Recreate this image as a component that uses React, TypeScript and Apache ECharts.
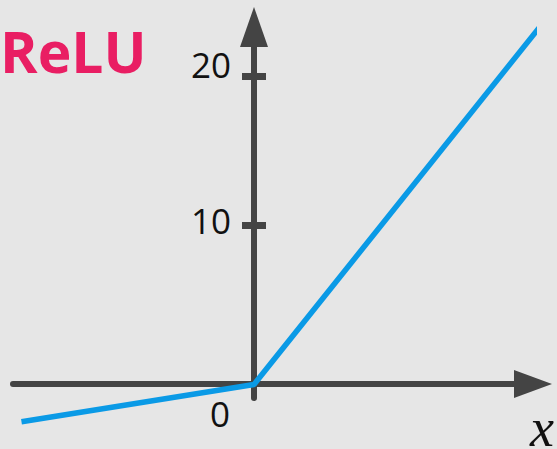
import React, { useEffect, useRef } from "react";
import * as echarts from "echarts";

// Data
const xValues = [-20, 0, 25];
const yValues = [-3.2, -0.7, 23.7];
const yTickValues = [10, 20];
const yUpperLabel = [20];
const yLowerLabel = [10];
const xTickValues = [0];
const titleText = "ReLU";
const xName = "x";

export default function App() {
  const ref = useRef<HTMLDivElement>(null);
  useEffect(() => {
    if (!ref.current) return;
    const chart = echarts.init(ref.current, null, { renderer: "svg" });
    const X_MIN = -20.73;
    const X_MAX = 24;
    const Y_MIN = -1.61;
    const Y_MAX = 23.29;
    const axisColor = "#444444";
    const labelFont = "Open Sans";
    const labelStyle = { fontSize: 35, fontFamily: labelFont, color: "#111111" };
    chart.setOption({
      animation: false,
      backgroundColor: "#e6e6e6",
      title: {
        text: titleText,
        left: 0,
        top: 22,
        padding: 0,
        textStyle: { color: "#e91e63", fontSize: 57, fontWeight: "bold", fontFamily: "Open Sans" },
      },
      graphic: [
        {
          type: "text",
          x: 530,
          y: 428,
          silent: true,
          style: {
            text: xName,
            font: "italic 54px 'Liberation Serif'",
            fill: "#111111",
            align: "left",
            verticalAlign: "middle",
          },
        },
      ],
      grid: [
        // series grid
        { left: 13, right: 24, top: 27, bottom: 51, outerBoundsMode: "none", containLabel: false },
        // horizontal axis grid
        { left: 13, right: 24, top: 27, bottom: 65, outerBoundsMode: "none", containLabel: false },
        // vertical axis grid: its left edge is x = 0
        { left: 254, right: 24, top: 27, bottom: 51, outerBoundsMode: "none", containLabel: false },
      ],
      xAxis: [
        { gridIndex: 0, type: "value", min: X_MIN, max: X_MAX, show: false },
        {
          gridIndex: 1,
          type: "value",
          min: X_MIN,
          max: X_MAX,
          axisLine: {
            onZero: false,
            lineStyle: { color: axisColor, width: 6 },
            symbol: ["none", "triangle"],
            symbolSize: [28, 38],
          },
          axisTick: { show: false },
          splitLine: { show: false },
          axisLabel: {
            customValues: xTickValues,
            ...labelStyle,
            margin: 12,
            align: "right",
            padding: [0, 24, 0, 0],
          },
        },
        { gridIndex: 2, type: "value", min: 0, max: X_MAX, show: false },
      ],
      yAxis: [
        { gridIndex: 0, type: "value", min: Y_MIN, max: Y_MAX, show: false },
        { gridIndex: 1, type: "value", min: 0, max: 1, show: false },
        {
          gridIndex: 2,
          type: "value",
          position: "left",
          min: Y_MIN,
          max: Y_MAX,
          axisLine: {
            onZero: false,
            lineStyle: { color: axisColor, width: 6 },
            symbol: ["none", "triangle"],
            symbolSize: [28, 40],
          },
          axisTick: { customValues: yTickValues, length: 12, lineStyle: { color: axisColor, width: 7 } },
          splitLine: { show: false },
          axisLabel: {
            customValues: yUpperLabel,
            ...labelStyle,
            margin: 23,
            verticalAlign: "bottom",
            lineHeight: 24,
          },
        },
        {
          gridIndex: 2,
          type: "value",
          position: "left",
          min: Y_MIN,
          max: Y_MAX,
          axisLine: { show: false, onZero: false },
          axisTick: {
            inside: true,
            customValues: yTickValues,
            length: 12,
            lineStyle: { color: axisColor, width: 7 },
          },
          axisLabel: {
            customValues: yLowerLabel,
            ...labelStyle,
            inside: false,
            margin: 23,
            verticalAlign: "bottom",
            lineHeight: 10,
          },
          splitLine: { show: false },
        },
      ],
      series: [
        {
          type: "line",
          xAxisIndex: 0,
          yAxisIndex: 0,
          data: xValues.map((x, i) => [x, yValues[i]]),
          symbol: "none",
          showSymbol: false,
          clip: false,
          lineStyle: { color: "#0a9ae6", width: 5.5 },
          z: 5,
        },
      ],
    });
    return () => chart.dispose();
  }, []);
  return (
    <div
      ref={ref}
      style={{ position: "fixed", left: 0, top: 0, width: 557, height: 449 }}
    />
  );
}
